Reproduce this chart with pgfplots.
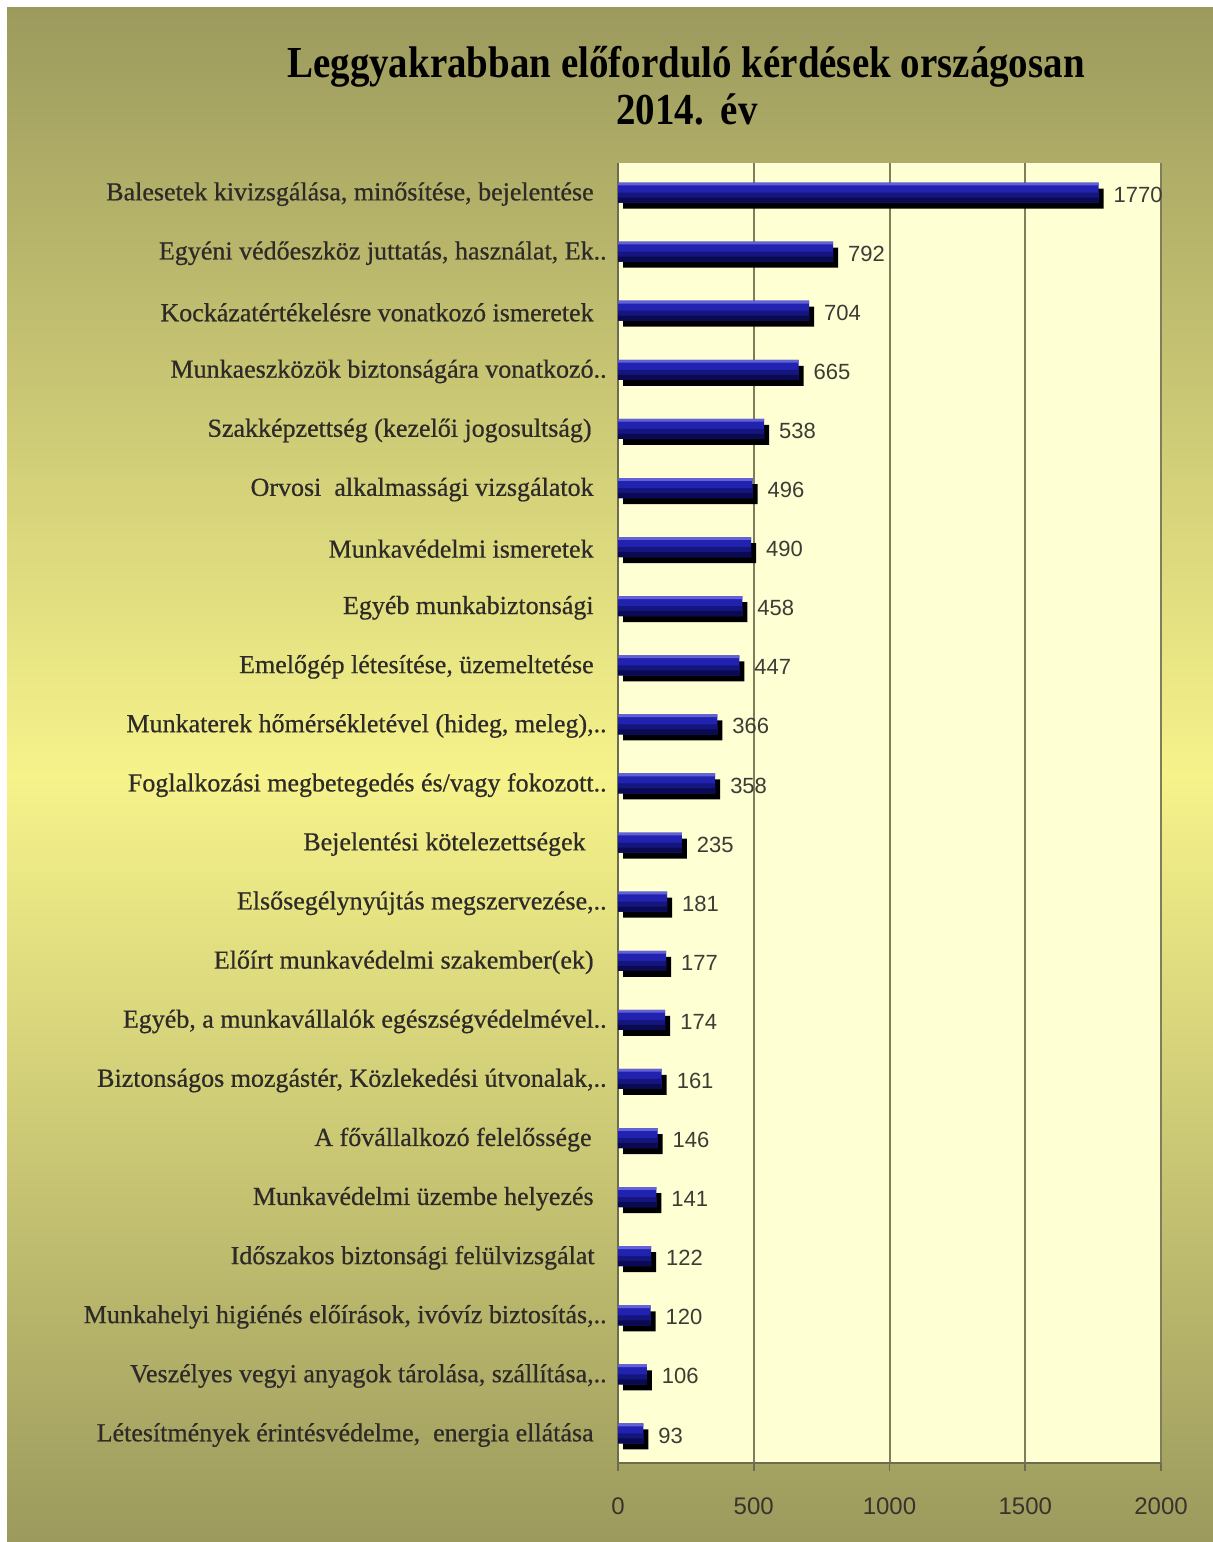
\documentclass[border=0pt]{standalone}
\usepackage{fontspec}
\setmainfont{Liberation Serif}
\newfontface\lblfont{Liberation Serif}[FakeBold=0.6]
\newfontfamily\numfont{Liberation Sans}
\usepackage{pgfplots}
\pgfplotsset{compat=1.18}
\definecolor{bgolive}{HTML}{9C9A5D}
\definecolor{bgyel}{HTML}{F6F38B}
\definecolor{plotbg}{HTML}{FFFFD4}
\definecolor{gridc}{HTML}{7F7D5A}
\definecolor{axc}{HTML}{6E6C50}
\definecolor{barhi}{HTML}{6262D6}
\definecolor{barmid}{HTML}{2222B0}
\definecolor{barlow}{HTML}{15157E}
\definecolor{barbot}{HTML}{0A0A52}
\definecolor{lblc}{HTML}{3C3C36}
\pgfplotstableread{
v y
1770 0
792 1
704 2
665 3
538 4
496 5
490 6
458 7
447 8
366 9
358 10
235 11
181 12
177 13
174 14
161 15
146 16
141 17
122 18
120 19
106 20
93 21
}\datatab
\begin{document}
\begin{tikzpicture}
\fill[white] (0,0) rectangle (606.5pt,-771pt);
\shade[top color=bgolive, bottom color=bgolive, middle color=bgyel] (3.5pt,-3.5pt) rectangle (606.5pt,-771pt);
\useasboundingbox (0,0) rectangle (606.5pt,-771pt);
\node[anchor=base, font=\fontsize{20.5}{22}\selectfont\bfseries] at (343pt,-38.5pt) {\scalebox{0.95}[1.08]{Leggyakrabban előforduló kérdések országosan}};
\node[anchor=base, font=\fontsize{20.5}{22}\selectfont\bfseries] at (343.5pt,-62pt) {\scalebox{0.95}[1.08]{2014.\hspace{9pt}év}};
\begin{axis}[
  at={(444.75pt,-406.5pt)}, anchor=center,
  width=271.5pt, height=650pt, scale only axis,
  xmin=0, xmax=2000, ymin=-0.5, ymax=21.5, y dir=reverse,
  axis background/.style={fill=plotbg},
  axis x line*=bottom, axis y line*=left,
  axis line style={-, draw=axc, line width=0.8pt},
  xtick={0,500,1000,1500,2000},
  xtick align=outside, major tick length=4pt,
  x tick style={draw=axc, line width=0.8pt},
  xmajorgrids, grid style={draw=gridc, line width=1pt},
  ytick={0,...,21}, y tick style={draw=none},
  /pgf/number format/1000 sep={},
  /pgf/number format/assume math mode=true,
  xticklabel style={font=\numfont\fontsize{12}{14}\selectfont, text=black!80!olive, yshift=-10pt},
  yticklabel style={font=\lblfont\fontsize{13}{15}\selectfont, inner sep=0pt, text=black!90!olive, xshift=-5.5pt, yshift=-0.8pt},
  yticklabels={
    {Balesetek kivizsgálása, minősítése, bejelentése\hspace*{6.5pt}},
    {Egyéni védőeszköz juttatás, használat, Ek..},
    {Kockázatértékelésre vonatkozó ismeretek\hspace*{6.5pt}},
    {Munkaeszközök biztonságára vonatkozó..},
    {Szakképzettség (kezelői jogosultság)\hspace*{7.5pt}},
    {Orvosi\ \ alkalmassági vizsgálatok\hspace*{6.5pt}},
    {Munkavédelmi ismeretek\hspace*{6.5pt}},
    {Egyéb munkabiztonsági\hspace*{6.5pt}},
    {Emelőgép létesítése, üzemeltetése\hspace*{6.5pt}},
    {Munkaterek hőmérsékletével (hideg, meleg),..},
    {Foglalkozási megbetegedés és/vagy fokozott..},
    {Bejelentési kötelezettségek\hspace*{10.5pt}},
    {Elsősegélynyújtás megszervezése,..},
    {Előírt munkavédelmi szakember(ek)\hspace*{6.5pt}},
    {Egyéb, a munkavállalók egészségvédelmével..},
    {Biztonságos mozgástér, Közlekedési útvonalak,..},
    {A fővállalkozó felelőssége\hspace*{7.5pt}},
    {Munkavédelmi üzembe helyezés\hspace*{6.5pt}},
    {Időszakos biztonsági felülvizsgálat\hspace*{6pt}},
    {Munkahelyi higiénés előírások, ivóvíz biztosítás,..},
    {Veszélyes vegyi anyagok tárolása, szállítása,..},
    {Létesítmények érintésvédelme,\ \ energia ellátása\hspace*{6.5pt}}
  },
  clip=false,
]
% shadow
\addplot[xbar, bar shift=0pt, bar width=10pt, fill=black, draw=none, xshift=2.5pt, yshift=-3pt] table[x=v, y=y] {\datatab};
% face
\addplot[xbar, bar shift=0pt, bar width=10pt, fill=barmid, draw=none,
  nodes near coords, nodes near coords align={horizontal},
  every node near coord/.append style={font=\numfont\fontsize{11}{13}\selectfont, text=lblc, xshift=4pt, yshift=-1pt}] table[x=v, y=y] {\datatab};
% lower bands
\addplot[xbar, bar shift=0pt, bar width=5pt, fill=barlow, draw=none, yshift=-2.5pt] table[x=v, y=y] {\datatab};
\addplot[xbar, bar shift=0pt, bar width=2.5pt, fill=barbot, draw=none, yshift=-3.75pt] table[x=v, y=y] {\datatab};
% top highlight
\addplot[xbar, bar shift=0pt, bar width=1.4pt, fill=barhi, draw=none, yshift=4.3pt] table[x=v, y=y] {\datatab};
\end{axis}
\end{tikzpicture}
\end{document}
